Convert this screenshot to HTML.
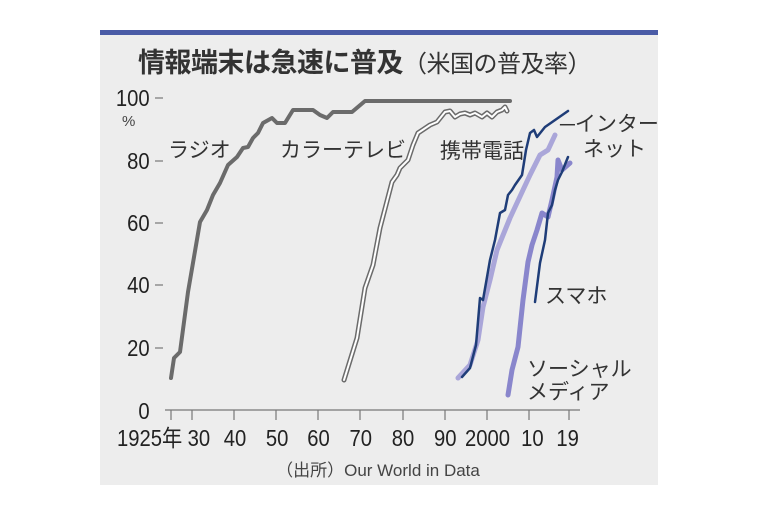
<!DOCTYPE html>
<html><head><meta charset="utf-8"><style>
html,body{margin:0;padding:0;background:#fff;}
svg{display:block;}
text{font-family:"Liberation Sans","Noto Sans CJK JP",sans-serif;}
</style></head><body>
<svg width="759" height="512" viewBox="0 0 759 512" xmlns="http://www.w3.org/2000/svg">
<rect x="100" y="30" width="558" height="455" fill="#ededed"/>
<rect x="100" y="30" width="558" height="5" fill="#4a5ba6"/>
<text x="138" y="72" font-size="27" font-weight="bold" fill="#333" letter-spacing="-0.5">情報端末は急速に普及<tspan font-weight="normal" font-size="24">（米国の普及率）</tspan></text>
<g font-size="23" fill="#222" text-anchor="end" transform="scale(0.88,1)">
<text x="170" y="106">100</text><text x="170" y="169">80</text><text x="170" y="231">60</text><text x="170" y="293">40</text><text x="170" y="356">20</text><text x="170" y="419">0</text>
</g>
<text x="122" y="126" font-size="15" fill="#444">%</text>
<g stroke="#777" stroke-width="1.2">
<line x1="155" y1="98" x2="163" y2="98"/><line x1="155" y1="161" x2="163" y2="161"/><line x1="155" y1="223" x2="163" y2="223"/><line x1="155" y1="285" x2="163" y2="285"/><line x1="155" y1="348" x2="163" y2="348"/>
<line x1="165" y1="410" x2="580" y2="410"/>
<line x1="171" y1="410" x2="171" y2="420"/><line x1="192" y1="410" x2="192" y2="420"/><line x1="234" y1="410" x2="234" y2="420"/><line x1="276" y1="410" x2="276" y2="420"/><line x1="318" y1="410" x2="318" y2="420"/><line x1="360" y1="410" x2="360" y2="420"/><line x1="403" y1="410" x2="403" y2="420"/><line x1="445" y1="410" x2="445" y2="420"/><line x1="487" y1="410" x2="487" y2="420"/><line x1="529" y1="410" x2="529" y2="420"/><line x1="569" y1="410" x2="569" y2="420"/>
</g>
<g font-size="23" fill="#222" text-anchor="middle" transform="scale(0.88,1)">
<text x="170" y="446">1925年</text>
<text x="226" y="446">30</text><text x="267" y="446">40</text><text x="315" y="446">50</text><text x="362" y="446">60</text><text x="410" y="446">70</text><text x="458" y="446">80</text><text x="506" y="446">90</text><text x="554" y="446">2000</text><text x="605" y="446">10</text><text x="645" y="446">19</text>
</g>
<text x="378" y="476" font-size="17" fill="#444" text-anchor="middle">（出所）Our World in Data</text>
<g fill="none" stroke-linejoin="round" stroke-linecap="round">
<polyline stroke="#6b6b6b" stroke-width="4" points="171,378 174,358 180,352 188,292 200,222 207,210 213,195 220,183 228,165 237,157 243,148 248,147 253,138 258,133 263,123 272,118 277,123 285,123 293,110 313,110 320,115 327,118 333,112 352,112 365,101 510,101"/>
<polyline stroke="#6b6b6b" stroke-width="5" points="344,380 357,338 365,288 373,265 380,228 392,182 397,175 400,168 408,160 413,145 418,133 430,125 437,122 445,112 450,111 455,117 460,114 465,113 470,115 475,113 482,117 487,113 492,117 497,112 502,110 505,107 507,111"/>
<polyline stroke="#fff" stroke-width="2" points="344,380 357,338 365,288 373,265 380,228 392,182 397,175 400,168 408,160 413,145 418,133 430,125 437,122 445,112 450,111 455,117 460,114 465,113 470,115 475,113 482,117 487,113 492,117 497,112 502,110 505,107 507,111"/>
<polyline stroke="#aaa6d9" stroke-width="5" points="458,378 470,365 478,340 483,307 490,280 497,250 510,218 523,190 530,175 540,155 548,150 555,135"/>
<polyline stroke="#1f3d78" stroke-width="2.5" points="462,377 470,368 476,345 480,298 483,300 490,260 495,240 500,213 505,210 508,195 512,190 515,185 522,175 526,150 530,133 534,130 537,137 545,127 568,111"/>
<polyline stroke="#8986cc" stroke-width="5" points="508,395 512,370 518,347 523,300 528,262 532,245 537,230 542,213 548,217 552,200 557,177 558,160 562,170 570,163"/>
<polyline stroke="#1f3d78" stroke-width="2.5" points="535,302 540,263 545,240 548,213 552,205 555,190 558,180 562,172 568,157"/>
</g>
<g font-size="21" fill="#333">
<text x="168" y="157">ラジオ</text>
<text x="280" y="157">カラーテレビ</text>
<text x="440" y="158">携帯電話</text>
<text x="560" y="131">─インター</text>
<text x="583" y="156">ネット</text>
<text x="545" y="303">スマホ</text>
<text x="527" y="376">ソーシャル</text>
<text x="527" y="399">メディア</text>
</g>
</svg>
</body></html>
